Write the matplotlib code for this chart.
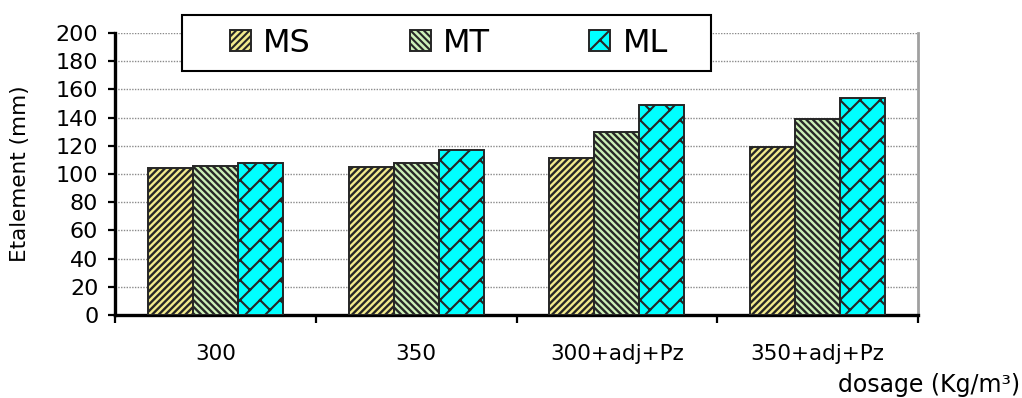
import warnings
import numpy as np
import matplotlib
matplotlib.use("Agg")
import matplotlib.pyplot as plt
from matplotlib import hatch as mhatch
from matplotlib.path import Path
from matplotlib.patches import Rectangle

warnings.filterwarnings("ignore")

categories = ["300", "350", "300+adj+Pz", "350+adj+Pz"]
series_names = ["MS", "MT", "ML"]
ms_values = [104, 105, 111, 119]
mt_values = [106, 108, 130, 139]
ml_values = [108, 117, 149, 154]
y_ticks = list(range(0, 201, 20))


class StripeHatch(mhatch.HatchPatternBase):
    """Dense diagonal stripes: 'y' rises to the right, 'z' falls to the right."""
    LINES = 15

    def __init__(self, hatch, density):
        self.dirs = [d for d, ch in ((1, "y"), (-1, "z")) if ch in hatch]
        self.offsets = np.arange(-self.LINES, self.LINES + 1) / self.LINES
        self.num_vertices = len(self.dirs) * len(self.offsets) * 2

    def set_vertices_and_codes(self, vertices, codes):
        m = len(self.offsets)
        for i, d in enumerate(self.dirs):
            seg = vertices[i * 2 * m:(i + 1) * 2 * m]
            x0, x1 = -1.0, 2.0
            base = 0.0 if d > 0 else 1.0
            seg[0::2, 0] = x0
            seg[0::2, 1] = base + d * x0 + self.offsets
            seg[1::2, 0] = x1
            seg[1::2, 1] = base + d * x1 + self.offsets
        codes[0::2] = Path.MOVETO
        codes[1::2] = Path.LINETO


class BrickHatch(mhatch.HatchPatternBase):
    """Diagonal brick pattern, selected with 'b'."""
    ROWS = 5

    def __init__(self, hatch, density):
        self.segments = []
        if "b" in hatch:
            n = self.ROWS
            half = 1.0 / (2 * n)
            for k in range(-n, n + 1):
                c = k / n
                # long mortar line y = x + c
                self.segments.append(((-1.0, -1.0 + c), (2.0, 2.0 + c)))
                # short joints down to the next line; the diagonal shift
                # already staggers them by half a brick from row to row
                for j in range(-n - 2, 2 * n + 3):
                    a = j / n
                    if -0.3 <= a <= 1.3 and -0.3 <= a + c <= 1.3:
                        self.segments.append(((a, a + c), (a + half, a + c - half)))
        self.num_vertices = 2 * len(self.segments)

    def set_vertices_and_codes(self, vertices, codes):
        for i, (p0, p1) in enumerate(self.segments):
            vertices[2 * i] = p0
            vertices[2 * i + 1] = p1
        codes[0::2] = Path.MOVETO
        codes[1::2] = Path.LINETO


mhatch._hatch_types.extend([StripeHatch, BrickHatch])

plt.rcParams["font.family"] = ["DejaVu Sans"]

fig = plt.figure(figsize=(10.22, 3.98), dpi=100)
ax = fig.add_axes([115 / 1022, 1 - 315 / 398, (918 - 115) / 1022, (315 - 33) / 398])

x = np.arange(len(categories))
width = 0.224
series = [ms_values, mt_values, ml_values]
styles = [("#F2EA8C", "y", 1.7), ("#CDF0B8", "z", 1.7), ("#00FFFF", "b", 1.5)]

containers = []
for i, (vals, (fc, hp, hlw)) in enumerate(zip(series, styles)):
    with plt.rc_context({"hatch.linewidth": hlw}):
        bars = ax.bar(x + (i - 1) * width, vals, width, color=fc,
                      edgecolor="#262626", hatch=hp, linewidth=1.4,
                      label=series_names[i], zorder=3)
        for b in bars:
            if hasattr(b, "set_hatch_linewidth"):
                b.set_hatch_linewidth(hlw)
    containers.append(bars)

ax.set_xlim(-0.5, len(categories) - 0.5)
ax.set_ylim(0, 200)
ax.set_yticks(y_ticks)
ax.set_xticks(x)
ax.set_xticklabels(categories)
ax.set_xticks(np.arange(len(categories) + 1) - 0.5, minor=True)

ax.yaxis.grid(True, color="#8a8a8a", linestyle=(0, (1, 1)), linewidth=1.0, zorder=0)
ax.set_axisbelow(True)

ax.tick_params(axis="y", direction="out", length=5, width=1.6, labelsize=16, pad=7)
ax.tick_params(axis="x", which="major", length=0, labelsize=15.5, pad=21)
ax.tick_params(axis="x", which="minor", direction="out", length=6, width=1.6)

for side in ("left", "bottom"):
    ax.spines[side].set_linewidth(2.4)
    ax.spines[side].set_color("black")
ax.spines["right"].set_color("#a0a0a0")
ax.spines["right"].set_linewidth(2.0)
ax.spines["top"].set_visible(False)

ax.set_ylabel("Etalement (mm)", fontsize=15.5)
ax.yaxis.set_label_coords(-0.106, 0.5)
ax.set_xlabel("dosage (Kg/m³)", fontsize=17, ha="right", va="center")
ax.xaxis.set_label_coords(1.127, -0.248)

# legend box drawn separately so the horizontal padding can be wider than the vertical one
fig.add_artist(Rectangle((182 / 1022, 1 - 71 / 398), (711 - 182) / 1022, 56 / 398,
                         transform=fig.transFigure, facecolor="white",
                         edgecolor="black", linewidth=1.5, zorder=1))
with plt.rc_context({"hatch.linewidth": 1.5}):
    fig.legend(handles=containers, labels=series_names, loc="center",
               bbox_to_anchor=(449 / 1022, 1 - 43 / 398), ncol=3,
               frameon=False, fontsize=23, handlelength=0.66,
               handleheight=0.63, handletextpad=0.38, columnspacing=3.1)

fig.savefig("out.png", dpi=100)
